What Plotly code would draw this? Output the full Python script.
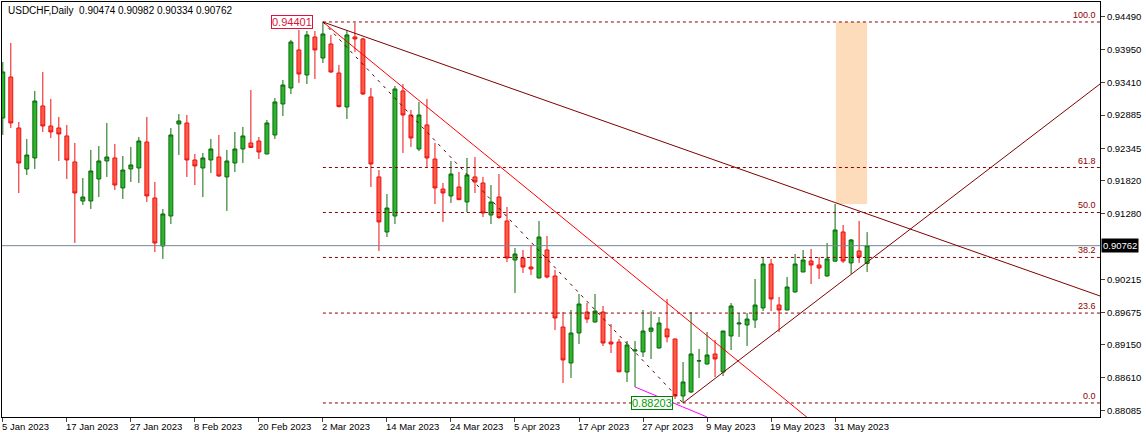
import plotly.graph_objects as go

# daily USDCHF candles, trading days starting 5 Jan 2023
opens = [0.92839, 0.93506, 0.92677, 0.92010, 0.92189, 0.93035, 0.92709, 0.92677, 0.92547, 0.92124,
         0.91489, 0.91489, 0.91847, 0.92140, 0.92189, 0.91701, 0.92010, 0.92026, 0.92449, 0.91538,
         0.90757, 0.91245, 0.92742, 0.92758, 0.92156, 0.92026, 0.92156, 0.92205, 0.91880, 0.92107,
         0.92335, 0.92433, 0.92465, 0.92254, 0.92563, 0.93067, 0.93327, 0.93946, 0.93539, 0.94157,
         0.93815, 0.94043, 0.93571, 0.93018, 0.94157, 0.94125, 0.93181, 0.91880, 0.90985, 0.91245,
         0.93279, 0.92888, 0.92335, 0.92726, 0.92172, 0.91684, 0.91571, 0.91717, 0.91473, 0.91880,
         0.91782, 0.91261, 0.91554, 0.91164, 0.90529, 0.90562, 0.90415, 0.90237, 0.90692, 0.90269,
         0.89439, 0.88854, 0.89342, 0.89683, 0.89521, 0.89683, 0.89195, 0.89195, 0.88707, 0.89049,
         0.89033, 0.89370, 0.89098, 0.89407, 0.89244, 0.88317, 0.88382, 0.88886, 0.88837, 0.89000,
         0.88707, 0.89293, 0.89488, 0.89472, 0.89553, 0.89749, 0.90464, 0.89797, 0.89716, 0.90009,
         0.90334, 0.90513, 0.90448, 0.90269, 0.90510, 0.90985, 0.90481, 0.90676, 0.90474]
highs = [0.93750, 0.94059, 0.92774, 0.92498, 0.93279, 0.93588, 0.93149, 0.92856, 0.92726, 0.92433,
         0.91863, 0.92319, 0.92384, 0.92758, 0.92416, 0.92221, 0.92368, 0.92530, 0.92856, 0.91798,
         0.91359, 0.92677, 0.92904, 0.92888, 0.92254, 0.92270, 0.92498, 0.92563, 0.92319, 0.92612,
         0.92693, 0.93295, 0.92530, 0.92807, 0.93165, 0.93458, 0.94108, 0.94271, 0.94255, 0.94255,
         0.94401, 0.94190, 0.93702, 0.94271, 0.94385, 0.94145, 0.93327, 0.91993, 0.91603, 0.93360,
         0.93392, 0.92970, 0.93100, 0.93149, 0.92433, 0.91782, 0.92140, 0.91961, 0.92189, 0.92205,
         0.91880, 0.91749, 0.91928, 0.91392, 0.90725, 0.90692, 0.90773, 0.91164, 0.90920, 0.90367,
         0.89683, 0.89716, 0.89976, 0.89830, 0.89976, 0.89781, 0.89488, 0.89244, 0.89212, 0.89212,
         0.89716, 0.89699, 0.89602, 0.89895, 0.89250, 0.88870, 0.89683, 0.89082, 0.89358, 0.89228,
         0.89358, 0.89830, 0.89667, 0.89667, 0.90220, 0.90578, 0.90546, 0.89927, 0.90253, 0.90627,
         0.90692, 0.90708, 0.90578, 0.90806, 0.91440, 0.91099, 0.90871, 0.91164, 0.90982]
lows = [0.92563, 0.92677, 0.91619, 0.91912, 0.92010, 0.92612, 0.92514, 0.92140, 0.91847, 0.90806,
        0.91424, 0.91359, 0.91554, 0.91880, 0.91668, 0.91522, 0.91798, 0.91782, 0.91473, 0.90659,
        0.90546, 0.91115, 0.92237, 0.91880, 0.91749, 0.91554, 0.91945, 0.91880, 0.91327, 0.91961,
        0.92107, 0.92368, 0.92172, 0.92250, 0.92498, 0.92872, 0.93230, 0.93409, 0.93392, 0.93474,
        0.93734, 0.93571, 0.93010, 0.92823, 0.93913, 0.93213, 0.91717, 0.90676, 0.90903, 0.91115,
        0.92270, 0.92368, 0.92300, 0.92042, 0.91440, 0.91148, 0.91457, 0.91505, 0.91310, 0.91619,
        0.91229, 0.91115, 0.91196, 0.90497, 0.89993, 0.90318, 0.90285, 0.90230, 0.90230, 0.89391,
        0.88528, 0.88610, 0.89163, 0.89504, 0.89510, 0.89130, 0.89016, 0.88707, 0.88545, 0.88463,
        0.88951, 0.88919, 0.89090, 0.89190, 0.88268, 0.88203, 0.88366, 0.88610, 0.88830, 0.88626,
        0.88642, 0.89065, 0.89277, 0.89130, 0.89423, 0.89699, 0.89699, 0.89358, 0.89710, 0.90000,
        0.90330, 0.90139, 0.90220, 0.90260, 0.90505, 0.90481, 0.90302, 0.90481, 0.90334]
closes = [0.93588, 0.92758, 0.92107, 0.92237, 0.93116, 0.92709, 0.92612, 0.92579, 0.92156, 0.91619,
          0.91554, 0.91977, 0.92140, 0.92205, 0.91749, 0.91993, 0.92075, 0.92465, 0.91571, 0.90806,
          0.91278, 0.92563, 0.92791, 0.92156, 0.92059, 0.92189, 0.92335, 0.91896, 0.92140, 0.92335,
          0.92547, 0.92360, 0.92286, 0.92758, 0.93100, 0.93376, 0.94076, 0.93555, 0.94190, 0.93946,
          0.94206, 0.93588, 0.93025, 0.94190, 0.94125, 0.93230, 0.92091, 0.91148, 0.91375, 0.93311,
          0.92888, 0.92514, 0.92888, 0.92189, 0.91701, 0.91619, 0.91928, 0.91510, 0.91912, 0.91798,
          0.91294, 0.91473, 0.91220, 0.90562, 0.90627, 0.90415, 0.90383, 0.90903, 0.90253, 0.89586,
          0.88903, 0.89342, 0.89813, 0.89569, 0.89699, 0.89179, 0.89163, 0.88710, 0.89147, 0.89065,
          0.89374, 0.89423, 0.89504, 0.89277, 0.88317, 0.88545, 0.89000, 0.88890, 0.88984, 0.88919,
          0.89374, 0.89781, 0.89504, 0.89569, 0.89797, 0.90464, 0.89895, 0.89716, 0.90090, 0.90464,
          0.90529, 0.90448, 0.90399, 0.90546, 0.91017, 0.90513, 0.90855, 0.90578, 0.90762]

date_labels = ["5 Jan 2023", "17 Jan 2023", "27 Jan 2023", "8 Feb 2023", "20 Feb 2023",
               "2 Mar 2023", "14 Mar 2023", "24 Mar 2023", "5 Apr 2023", "17 Apr 2023",
               "27 Apr 2023", "9 May 2023", "19 May 2023", "31 May 2023"]
price_ticks = [0.94490, 0.93950, 0.93410, 0.92885, 0.92345, 0.91820, 0.91280,
               0.90215, 0.89675, 0.89150, 0.88610, 0.88085]

swing_high = 0.94401
swing_low = 0.88203
fib_levels = [0.0, 23.6, 38.2, 50.0, 61.8, 100.0]
last_price = 0.90762

FONT = "Liberation Sans"
MAROON = "#8b0000"
X_END = 137.1

x = list(range(len(opens)))
fig = go.Figure()

fig.add_trace(go.Candlestick(
    x=x, open=opens, high=highs, low=lows, close=closes,
    increasing=dict(line=dict(color="#0b6b0b", width=1), fillcolor="#2db52d"),
    decreasing=dict(line=dict(color="#ee1111", width=1), fillcolor="#ff5a46"),
    whiskerwidth=0, hoverinfo="skip", showlegend=False,
))

# fibonacci retracement levels
for lvl in fib_levels:
    p = swing_low + (swing_high - swing_low) * lvl / 100
    fig.add_shape(type="line", x0=40, x1=X_END, y0=p, y1=p,
                  line=dict(color=MAROON, width=1, dash="3px,3px"))
    fig.add_annotation(x=1, xref="x domain", y=p, yanchor="bottom", xanchor="right",
                       text=f"{lvl:.1f}", showarrow=False, xshift=-2,
                       font=dict(family=FONT, size=9, color=MAROON))

# orange zone
fig.add_shape(type="rect", x0=104.1, x1=108, y0=0.91440, y1=swing_high,
              fillcolor="#fddcbc", line=dict(width=0), layer="below")

# current price line
fig.add_hline(y=last_price, line=dict(color="#778899", width=1))

# trendlines
fig.add_shape(type="line", x0=40, y0=swing_high, x1=X_END, y1=0.89944,
              line=dict(color="#800000", width=1))
fig.add_shape(type="line", x0=40, y0=swing_high, x1=100.9, y1=0.87926,
              line=dict(color="#ff0000", width=1))
fig.add_shape(type="line", x0=40, y0=swing_high, x1=85, y1=swing_low,
              line=dict(color="#5a0000", width=1, dash="3px,5px"))
fig.add_shape(type="line", x0=85, y0=swing_low, x1=X_END, y1=0.93392,
              line=dict(color="#800000", width=1))
fig.add_shape(type="line", x0=79, y0=0.88463, x1=88, y1=0.87975,
              line=dict(color="#ff00ff", width=1))

# price labels
fig.add_annotation(x=36.1, y=swing_high, text=f"{swing_high:.5f}", showarrow=False,
                   font=dict(family=FONT, size=11, color="#dc143c"),
                   bordercolor="#dc143c", borderwidth=1, borderpad=0, bgcolor="white")
fig.add_annotation(x=81.1, y=swing_low, text=f"{swing_low:.5f}", showarrow=False,
                   font=dict(family=FONT, size=11, color="#00a000"),
                   bordercolor="#008000", borderwidth=1, borderpad=0, bgcolor="white")
fig.add_annotation(x=1, xref="x domain", y=last_price, xanchor="left", showarrow=False,
                   text=f"{last_price:.5f}", font=dict(family=FONT, size=9.5, color="white"),
                   bgcolor="black", borderpad=1, xshift=1)

# header
fig.add_annotation(x=0, xref="paper", y=1, yref="paper", xanchor="left", yanchor="top",
                   text=f"USDCHF,Daily  {opens[-1]:.5f} {highs[-1]:.5f} {lows[-1]:.5f} {closes[-1]:.5f}",
                   showarrow=False, font=dict(family=FONT, size=10, color="black"), xshift=4, yshift=-1)

# date labels left-aligned at their tick
for i, lab in enumerate(date_labels):
    fig.add_annotation(x=i * 8, y=0, yref="paper", yanchor="top", xanchor="left",
                       text=lab, showarrow=False, yshift=-2, xshift=-3,
                       font=dict(family=FONT, size=9.5, color="black"))

fig.update_layout(
    width=1146, height=438,
    margin=dict(l=2, r=46, t=2, b=21),
    plot_bgcolor="white", paper_bgcolor="white",
    font=dict(family=FONT, size=9.5, color="black"),
    xaxis=dict(range=[-0.1, X_END], rangeslider=dict(visible=False), showgrid=False,
               zeroline=False, tickvals=[i * 8 for i in range(len(date_labels))],
               ticktext=[""] * len(date_labels), ticks="outside", ticklen=4,
               showline=True, linecolor="black", mirror=True),
    yaxis=dict(range=[0.87975, 0.94726], side="right", showgrid=False, zeroline=False,
               tickvals=price_ticks, ticktext=[f"{t:.5f}" for t in price_ticks],
               ticks="outside", ticklen=4, showline=True, linecolor="black", mirror=True,
               automargin=False),
)

fig.write_html("out.html", config={"displayModeBar": False},
               post_script="document.body.style.margin='0px';")
